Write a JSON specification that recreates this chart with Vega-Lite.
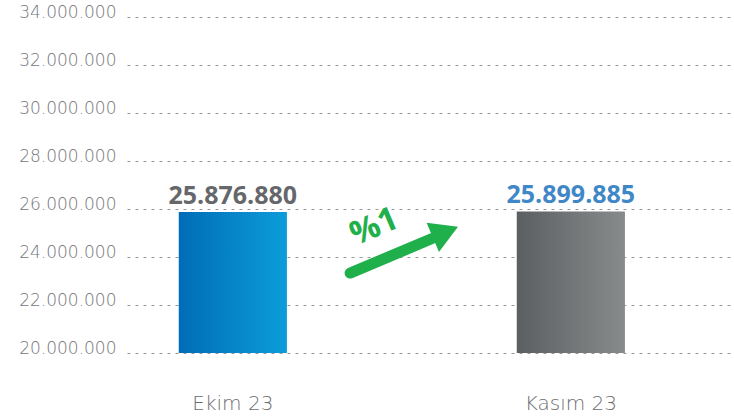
{
  "$schema": "https://vega.github.io/schema/vega-lite/v6.json",
  "autosize": {"type": "none"},
  "width": 603,
  "height": 336,
  "padding": {"left": 127, "top": 17, "right": 4, "bottom": 64},
  "background": "white",
  "datasets": {
    "bars": [
      {"month": "Ekim 23", "v": 25876880},
      {"month": "Kasım 23", "v": 25899885}
    ],
    "shaft": [
      {"x": 0.370, "v": 23330000, "x2": 0.506, "v2": 24770000}
    ],
    "head": [
      {"x": 0.528, "v": 25040000}
    ],
    "pct": [
      {"x": 0.41, "v": 25250000, "label": "%1"}
    ]
  },
  "config": {
    "locale": {"number": {"decimal": ",", "thousands": ".", "grouping": [3], "currency": ["", " TL"]}},
    "view": {"stroke": null},
    "font": "Open Sans"
  },
  "resolve": {"scale": {"x": "independent"}},
  "layer": [
    {
      "data": {"name": "bars"},
      "encoding": {
        "x": {
          "field": "month", "type": "nominal",
          "scale": {"paddingInner": 0.68, "paddingOuter": 0.232, "align": 0.33},
          "axis": {"title": null, "domain": false, "ticks": false, "tickSize": 0, "grid": false,
                   "labelAngle": 0, "labelPadding": 56, "labelBaseline": "alphabetic",
                   "labelFont": "DejaVu Sans", "labelFontWeight": 300, "labelFontSize": 20, "labelColor": "#6a6c6f"}
        },
        "y": {
          "field": "v", "type": "quantitative",
          "scale": {"domain": [20000000, 34000000], "zero": false, "nice": false},
          "axis": {"title": null, "domain": false, "ticks": false, "tickSize": 0,
                   "values": [20000000, 22000000, 24000000, 26000000, 28000000, 30000000, 32000000, 34000000],
                   "format": ",d", "labelPadding": 11, "labelBaseline": "alphabetic",
                   "labelFont": "DejaVu Sans", "labelFontWeight": 300, "labelFontSize": 17, "labelColor": "#74767a",
                   "grid": true, "gridColor": "#9a9a9a", "gridDash": [3, 5], "gridWidth": 1}
        }
      },
      "layer": [
        {
          "transform": [{"filter": "datum.month === 'Ekim 23'"}],
          "mark": {"type": "bar", "clip": true, "color": {"gradient": "linear", "x1": 0, "x2": 1, "y1": 0, "y2": 0,
                   "stops": [{"offset": 0, "color": "#006db6"}, {"offset": 1, "color": "#0c9cda"}]}}
        },
        {
          "transform": [{"filter": "datum.month === 'Kasım 23'"}],
          "mark": {"type": "bar", "clip": true, "color": {"gradient": "linear", "x1": 0, "x2": 1, "y1": 0, "y2": 0,
                   "stops": [{"offset": 0, "color": "#5c5f61"}, {"offset": 1, "color": "#888b8c"}]}}
        },
        {
          "mark": {"type": "text", "baseline": "alphabetic", "dy": -8, "fontSize": 25, "fontWeight": "bold", "font": "Open Sans"},
          "encoding": {
            "text": {"field": "v", "type": "quantitative", "format": ",d"},
            "color": {"field": "month", "type": "nominal", "legend": null,
                      "scale": {"domain": ["Ekim 23", "Kasım 23"], "range": ["#65676a", "#3f87c7"]}}
          }
        }
      ]
    },
    {
      "layer": [
        {
          "data": {"name": "shaft"},
          "mark": {"type": "rule", "color": "#1fb04c", "strokeWidth": 11, "strokeCap": "round"},
          "encoding": {
            "x": {"field": "x", "type": "quantitative", "scale": {"domain": [0, 1]}, "axis": null},
            "x2": {"field": "x2"},
            "y": {"field": "v", "type": "quantitative"},
            "y2": {"field": "v2"}
          }
        },
        {
          "data": {"name": "head"},
          "mark": {"type": "point", "shape": "triangle-right", "filled": true, "color": "#1fb04c", "opacity": 1, "size": 1000, "angle": -23},
          "encoding": {
            "x": {"field": "x", "type": "quantitative", "scale": {"domain": [0, 1]}, "axis": null},
            "y": {"field": "v", "type": "quantitative"}
          }
        },
        {
          "data": {"name": "pct"},
          "mark": {"type": "text", "color": "#1fb04c", "fontSize": 33, "fontWeight": "bold", "font": "Open Sans", "angle": -23},
          "encoding": {
            "x": {"field": "x", "type": "quantitative", "scale": {"domain": [0, 1]}, "axis": null},
            "y": {"field": "v", "type": "quantitative"},
            "text": {"field": "label"}
          }
        }
      ]
    }
  ]
}
